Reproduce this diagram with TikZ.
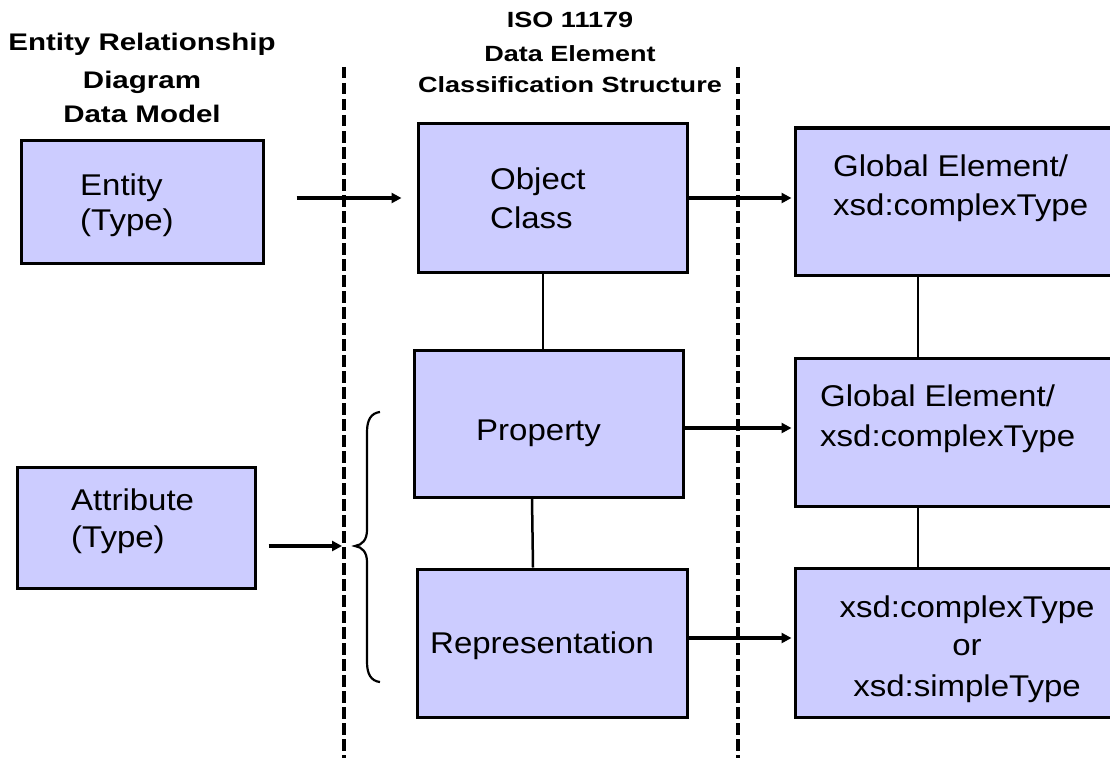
\documentclass[tikz,border=0pt]{standalone}
\usepackage{fontspec}
\setmainfont{Liberation Sans}
\newfontfamily\boxfont{Liberation Sans}[FakeStretch=1.1]
\newfontfamily\headfont{Liberation Sans}[FakeStretch=1.23]
\usetikzlibrary{arrows.meta,calc}
\definecolor{boxfill}{RGB}{204,204,255}
\begin{document}
\begin{tikzpicture}[x=1pt,y=-1pt,
  box/.style={draw=black, fill=boxfill, line width=3pt, inner sep=0pt, rectangle},
  boxtext/.style={anchor=base west, inner sep=0pt, font=\boxfont\fontsize{30}{39}\selectfont},
  boxtextc/.style={anchor=base, inner sep=0pt, font=\boxfont\fontsize{30}{39}\selectfont},
  headA/.style={anchor=base, inner sep=0pt, font=\headfont\bfseries\fontsize{24}{30}\selectfont},
  headB/.style={anchor=base, inner sep=0pt, font=\headfont\bfseries\fontsize{22}{28}\selectfont},
  divider/.style={line width=3.6pt, dash pattern=on 11.5pt off 4.5pt},
  arrowline/.style={line width=3.4pt, -{Triangle[length=10pt,width=10pt]}},
  link/.style={line width=2.5pt},
  bracestyle/.style={line width=2.2pt}]
\useasboundingbox (0,0) rectangle (1110,757);
\clip (0,0) rectangle (1110,757);
\fill[white] (0,0) rectangle (1110,757);

% headings
\node[headA] (h1a) at (142,51) {Entity Relationship};
\node[headA] (h1b) at (142,89) {Diagram};
\node[headA] (h1c) at (142,123) {Data Model};
\node[headB] (h2a) at (570,28) {ISO 11179};
\node[headB] (h2b) at (570,62) {Data Element};
\node[headB] (h2c) at (570,93) {Classification Structure};

% dividers
\coordinate (d1top) at (344,67);
\coordinate (d1bot) at (344,760);
\coordinate (d2top) at (738,67);
\coordinate (d2bot) at (738,760);
\draw[divider] (d1top) -- (d1bot);
\draw[divider] (d2top) -- (d2bot);

% boxes
\node[box, minimum width=242pt, minimum height=123pt] (entity) at (142,201.5) {};
\node[box, minimum width=238pt, minimum height=121pt] (attr) at (136,527.5) {};
\node[box, minimum width=269pt, minimum height=148pt] (objclass) at (552.5,198) {};
\node[box, minimum width=269pt, minimum height=147pt] (prop) at (548.5,423.5) {};
\node[box, minimum width=270pt, minimum height=148pt] (repr) at (552,643) {};
\node[box, minimum width=330pt, minimum height=147pt] (g1) at (960,201.5) {};
\node[box, minimum width=330pt, minimum height=148pt] (g2) at (960,432) {};
\node[box, minimum width=330pt, minimum height=149pt] (g3) at (960,642.5) {};

% box texts
\node[boxtext] (t1a) at (80,195) {Entity};
\node[boxtext] (t1b) at (80,230) {(Type)};
\node[boxtext] (t2a) at (71,510) {Attribute};
\node[boxtext] (t2b) at (71,547) {(Type)};
\node[boxtext] (t3a) at (490,189) {Object};
\node[boxtext] (t3b) at (490,228) {Class};
\node[boxtext] (t4) at (476,440) {Property};
\node[boxtext] (t5) at (430,653) {Representation};
\node[boxtext] (t6a) at (833,176) {Global Element/};
\node[boxtext] (t6b) at (833,215) {xsd:complexType};
\node[boxtext] (t7a) at (820,406) {Global Element/};
\node[boxtext] (t7b) at (820,446) {xsd:complexType};
\node[boxtextc] (t8a) at (967,617) {xsd:complexType};
\node[boxtextc] (t8b) at (967,655) {or};
\node[boxtextc] (t8c) at (967,696) {xsd:simpleType};

% brace
\coordinate (btip) at (355,546);
\draw[bracestyle] (380,412) .. controls (371,413) and (367,420) .. (367,432) -- (367,530)
  .. controls (367,540) and (362,545) .. (btip)
  .. controls (362,547) and (367,552) .. (367,562) -- (367,662)
  .. controls (367,674) and (371,681) .. (380,682);

% arrows
\coordinate (ea) at (entity.east |- objclass.west);
\draw[arrowline, shorten <=32pt, shorten >=15pt] (ea) -- (objclass.west);
\coordinate (aa) at (attr.east |- btip);
\draw[arrowline, shorten <=12pt, shorten >=13pt] (aa) -- (btip);
\draw[arrowline, shorten >=2pt] (objclass.east) -- (objclass.east -| g1.west);
\coordinate (pa) at ($(prop.east)+(0,4.5)$);
\draw[arrowline, shorten >=2pt] (pa) -- (pa -| g2.west);
\coordinate (ra) at ($(repr.east)+(0,-5)$);
\draw[arrowline, shorten >=2pt] (ra) -- (ra -| g3.west);

% vertical links
\coordinate (oc) at ($(objclass.south)+(-9.5,0)$);
\draw[link] (oc) -- (oc |- prop.north);
\coordinate (pr1) at ($(prop.south)+(-16.5,0)$);
\coordinate (pr2) at ($(repr.north)+(-19,0)$);
\draw[link] (pr1) -- (pr2);
\coordinate (gl1) at ($(g1.south)+(-42,0)$);
\draw[link] (gl1) -- (gl1 |- g2.north);
\coordinate (gl2) at ($(g2.south)+(-42,0)$);
\draw[link] (gl2) -- (gl2 |- g3.north);
\end{tikzpicture}
\end{document}
